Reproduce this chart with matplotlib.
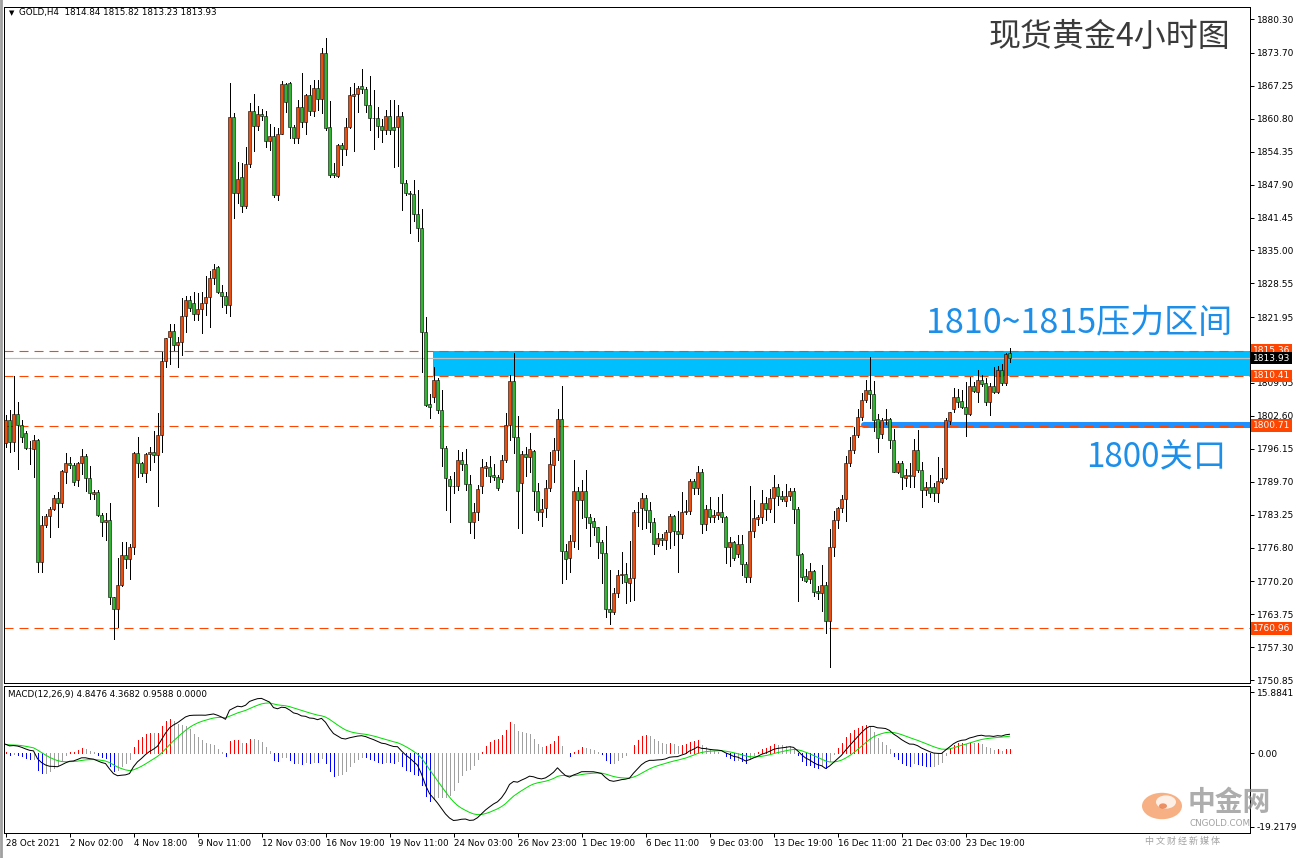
import matplotlib
matplotlib.use("Agg")
import matplotlib.pyplot as plt
import numpy as np
from matplotlib.patches import Rectangle, Circle
from matplotlib.lines import Line2D

plt.rcParams["font.family"] = ["DejaVu Sans", "Noto Sans CJK SC"]
plt.rcParams["lines.scale_dashes"] = False

W, H = 1299, 858

# GOLD H4 bars, oldest first
opens = [
    1797.2, 1801.8, 1797.4, 1803.0, 1800.9, 1799.2, 1796.4, 1796.2, 1797.9, 1773.9,
    1781.3, 1782.9, 1784.4, 1786.6, 1785.6, 1791.7, 1793.3, 1792.9, 1790.0, 1793.3,
    1794.7, 1790.4, 1787.3, 1787.7, 1783.2, 1781.9, 1782.3, 1767.1, 1764.7, 1769.4,
    1775.4, 1774.5, 1776.9, 1795.3, 1793.3, 1791.4, 1795.1, 1795.5, 1794.9, 1798.9,
    1813.3, 1818.1, 1819.2, 1816.4, 1817.0, 1822.1, 1825.2, 1824.8, 1822.6, 1823.5,
    1824.7, 1825.8, 1829.7, 1831.8, 1826.9, 1826.0, 1824.4, 1861.1, 1846.3, 1849.3,
    1843.8, 1851.9, 1862.3, 1859.4, 1861.7, 1861.4, 1856.5, 1857.4, 1845.9, 1857.9,
    1867.6, 1867.7, 1859.2, 1857.0, 1863.0, 1860.2, 1865.4, 1862.4, 1866.9, 1864.7,
    1873.6, 1859.1, 1850.1, 1849.6, 1855.7, 1854.8, 1859.2, 1865.3, 1865.6, 1867.2,
    1866.6, 1863.4, 1861.0, 1861.0, 1859.4, 1858.5, 1861.4, 1859.1, 1859.1, 1861.3,
    1848.3, 1846.3, 1846.1, 1842.1, 1839.3, 1819.0, 1804.9, 1806.2, 1809.6, 1803.8,
    1796.4, 1790.3, 1788.9, 1788.9, 1794.0, 1793.1, 1789.3, 1781.8, 1783.8, 1788.9,
    1792.3, 1792.5, 1791.0, 1790.6, 1790.2, 1794.0, 1800.8, 1809.5, 1798.5, 1789.4,
    1795.1, 1794.6, 1795.7, 1787.8, 1783.8, 1784.5, 1788.4, 1792.9, 1795.9, 1801.9,
    1776.2, 1774.8, 1778.0, 1787.8, 1786.1, 1787.8, 1782.7, 1782.0, 1780.8, 1777.8,
    1775.7, 1764.7, 1764.1, 1768.0, 1771.4, 1771.6, 1769.9, 1770.8, 1783.7, 1784.5,
    1786.5, 1784.2, 1781.9, 1777.6, 1778.6, 1778.2, 1779.8, 1783.0, 1780.1, 1779.4,
    1783.7, 1784.0, 1789.9, 1788.4, 1791.6, 1781.4, 1784.3, 1782.7, 1783.1, 1783.7,
    1782.7, 1776.9, 1777.8, 1775.5, 1777.6, 1773.5, 1771.0, 1780.1, 1782.4, 1782.7,
    1785.5, 1784.3, 1786.6, 1788.6, 1787.0, 1786.0, 1786.9, 1787.9, 1784.4, 1775.5,
    1771.2, 1770.6, 1772.2, 1768.3, 1768.0, 1769.5, 1762.5, 1776.9, 1782.2, 1784.5,
    1786.3, 1793.4, 1795.9, 1798.9, 1802.3, 1805.8, 1807.7, 1806.8, 1801.9, 1799.0,
    1801.8, 1801.9, 1797.9, 1791.7, 1793.3, 1790.4, 1791.0, 1790.8, 1795.9, 1792.0,
    1788.0, 1788.7, 1788.6, 1787.4, 1789.7, 1790.4, 1801.5, 1803.9, 1806.2, 1805.5,
    1804.4, 1802.9, 1808.5, 1807.2, 1809.6, 1809.0, 1805.4, 1808.5, 1807.3, 1811.6,
    1809.0, 1814.84,
]
highs = [
    1802.8, 1803.8, 1810.4, 1805.3, 1801.8, 1799.7, 1797.6, 1798.8, 1798.1, 1783.0,
    1783.4, 1784.8, 1787.1, 1787.6, 1792.0, 1795.3, 1794.5, 1793.3, 1793.6, 1796.1,
    1795.1, 1792.8, 1788.1, 1788.1, 1783.6, 1783.5, 1785.5, 1767.2, 1774.7, 1777.8,
    1777.8, 1777.5, 1795.5, 1798.4, 1793.6, 1795.3, 1796.5, 1799.6, 1803.1, 1815.1,
    1817.9, 1820.6, 1820.5, 1818.0, 1825.6, 1826.0, 1826.0, 1826.8, 1826.6, 1826.9,
    1829.9, 1831.0, 1832.3, 1832.0, 1828.2, 1826.8, 1867.7, 1861.9, 1852.4, 1852.2,
    1855.2, 1863.8, 1865.6, 1863.2, 1862.8, 1862.3, 1859.7, 1859.2, 1858.9, 1868.2,
    1867.7, 1867.9, 1859.6, 1864.5, 1869.7, 1865.6, 1867.4, 1868.4, 1868.4, 1874.6,
    1876.7, 1864.3, 1852.1, 1855.8, 1856.0, 1860.9, 1867.1, 1867.7, 1867.2, 1870.5,
    1867.1, 1869.2, 1866.4, 1863.0, 1860.7, 1862.5, 1864.5, 1864.5, 1863.5, 1862.2,
    1848.7, 1846.6, 1848.7, 1846.8, 1843.1, 1821.9, 1806.8, 1812.1, 1810.0, 1807.7,
    1796.7, 1790.8, 1791.7, 1795.9, 1795.6, 1796.2, 1791.0, 1785.5, 1789.1, 1794.1,
    1793.6, 1794.7, 1793.2, 1791.0, 1794.9, 1803.2, 1810.6, 1815.0, 1802.5, 1795.7,
    1796.6, 1799.2, 1795.9, 1789.4, 1786.3, 1790.0, 1795.5, 1798.3, 1804.0, 1808.5,
    1777.5, 1779.3, 1794.0, 1788.7, 1790.0, 1791.9, 1783.3, 1782.5, 1780.9, 1778.3,
    1781.0, 1772.4, 1768.8, 1772.4, 1776.0, 1773.7, 1778.1, 1784.2, 1785.8, 1787.4,
    1787.1, 1785.8, 1782.5, 1779.6, 1779.5, 1780.3, 1783.3, 1783.2, 1784.0, 1787.6,
    1786.1, 1790.2, 1790.2, 1792.7, 1792.2, 1785.2, 1786.7, 1784.2, 1786.8, 1787.2,
    1782.9, 1778.8, 1778.0, 1779.3, 1779.3, 1773.9, 1788.9, 1786.1, 1783.2, 1788.1,
    1786.8, 1788.3, 1791.0, 1789.2, 1787.9, 1789.2, 1788.4, 1788.4, 1784.8, 1775.7,
    1772.7, 1773.7, 1772.4, 1769.3, 1773.4, 1770.1, 1780.5, 1784.0, 1784.8, 1787.1,
    1794.7, 1798.5, 1800.5, 1804.0, 1807.0, 1809.6, 1814.1, 1809.5, 1803.0, 1802.1,
    1803.9, 1802.1, 1800.0, 1793.8, 1793.8, 1792.1, 1793.3, 1798.1, 1799.8, 1793.6,
    1789.7, 1791.0, 1789.4, 1794.6, 1792.3, 1802.1, 1803.4, 1808.0, 1807.8, 1807.7,
    1809.3, 1810.3, 1809.3, 1811.6, 1810.6, 1810.0, 1809.1, 1812.2, 1812.4, 1812.8,
    1814.9, 1815.82,
]
lows = [
    1796.6, 1795.6, 1795.8, 1792.1, 1797.4, 1796.2, 1793.2, 1790.7, 1772.1, 1772.0,
    1780.9, 1778.8, 1784.2, 1780.8, 1784.8, 1789.4, 1792.3, 1789.1, 1788.9, 1791.3,
    1787.8, 1786.3, 1786.3, 1782.9, 1779.1, 1778.2, 1765.7, 1758.8, 1761.3, 1769.2,
    1772.8, 1770.6, 1775.6, 1790.6, 1790.9, 1789.7, 1791.9, 1793.6, 1785.0, 1795.5,
    1812.1, 1812.7, 1815.5, 1812.1, 1814.5, 1819.1, 1823.2, 1821.4, 1821.4, 1818.8,
    1822.4, 1820.1, 1828.4, 1826.6, 1823.9, 1822.7, 1822.2, 1841.3, 1844.2, 1842.6,
    1843.4, 1851.4, 1854.5, 1858.6, 1860.5, 1855.3, 1854.7, 1845.5, 1844.9, 1857.9,
    1862.2, 1857.0, 1856.0, 1856.0, 1859.2, 1857.9, 1861.5, 1861.3, 1862.5, 1861.9,
    1858.6, 1849.3, 1849.3, 1849.3, 1851.7, 1853.7, 1858.9, 1854.5, 1862.2, 1865.8,
    1862.2, 1858.5, 1854.8, 1857.3, 1856.3, 1857.9, 1857.9, 1851.3, 1851.5, 1842.9,
    1845.9, 1838.5, 1840.8, 1836.9, 1811.2, 1804.5, 1802.1, 1805.4, 1803.1, 1792.7,
    1784.2, 1781.9, 1787.4, 1788.1, 1792.0, 1788.1, 1779.6, 1778.6, 1782.2, 1787.4,
    1790.8, 1789.7, 1790.0, 1788.1, 1789.7, 1793.6, 1797.9, 1795.4, 1780.6, 1779.7,
    1790.8, 1791.7, 1784.2, 1782.2, 1781.0, 1782.7, 1787.8, 1789.7, 1794.0, 1769.8,
    1770.7, 1772.0, 1777.0, 1776.5, 1782.5, 1780.6, 1777.2, 1779.3, 1774.7, 1769.8,
    1763.3, 1761.8, 1763.8, 1767.2, 1769.8, 1765.9, 1766.4, 1766.5, 1781.1, 1780.5,
    1780.7, 1779.9, 1775.5, 1777.2, 1777.4, 1776.5, 1776.7, 1777.4, 1772.1, 1778.6,
    1783.3, 1783.3, 1787.2, 1787.2, 1779.6, 1780.3, 1781.9, 1781.9, 1782.4, 1781.9,
    1773.7, 1773.1, 1774.4, 1775.0, 1771.4, 1770.0, 1770.1, 1778.8, 1781.2, 1781.6,
    1782.2, 1783.8, 1781.8, 1785.2, 1786.0, 1785.0, 1786.1, 1781.6, 1766.4, 1770.5,
    1770.1, 1769.8, 1767.3, 1766.7, 1764.3, 1760.1, 1753.5, 1775.2, 1780.7, 1783.7,
    1782.0, 1792.8, 1795.3, 1798.5, 1801.8, 1805.3, 1804.1, 1799.7, 1795.6, 1798.2,
    1801.1, 1796.4, 1791.6, 1791.5, 1788.2, 1788.9, 1788.7, 1788.7, 1791.7, 1784.8,
    1787.1, 1786.8, 1786.0, 1785.7, 1789.4, 1790.2, 1801.1, 1803.4, 1804.4, 1804.2,
    1798.7, 1802.7, 1807.3, 1805.4, 1808.5, 1804.7, 1802.8, 1807.1, 1807.0, 1808.6,
    1808.6, 1813.23,
]
closes = [
    1801.8, 1797.4, 1803.0, 1800.9, 1798.5, 1796.4, 1796.3, 1797.9, 1773.9, 1781.2,
    1782.9, 1784.4, 1786.6, 1785.6, 1791.8, 1793.3, 1792.9, 1789.7, 1793.3, 1794.7,
    1790.4, 1787.4, 1787.7, 1783.1, 1781.9, 1782.3, 1767.1, 1764.7, 1769.4, 1775.4,
    1774.5, 1776.9, 1795.3, 1793.3, 1791.4, 1795.1, 1795.5, 1794.9, 1798.9, 1813.3,
    1817.8, 1819.2, 1816.4, 1817.0, 1822.1, 1825.2, 1823.8, 1822.6, 1823.5, 1824.7,
    1825.8, 1829.7, 1831.3, 1826.9, 1826.0, 1824.4, 1861.1, 1846.3, 1848.9, 1843.8,
    1851.9, 1862.3, 1859.4, 1861.7, 1861.4, 1856.5, 1857.4, 1845.9, 1857.9, 1867.6,
    1864.0, 1859.2, 1857.0, 1863.0, 1860.2, 1865.4, 1862.4, 1866.9, 1864.7, 1873.6,
    1858.9, 1849.8, 1849.8, 1855.7, 1854.8, 1859.2, 1865.4, 1865.6, 1866.9, 1866.6,
    1863.4, 1861.0, 1860.9, 1859.4, 1858.5, 1861.4, 1858.5, 1858.5, 1861.3, 1848.3,
    1846.3, 1846.1, 1842.1, 1839.3, 1819.0, 1804.7, 1804.4, 1809.6, 1803.8, 1796.4,
    1790.4, 1788.9, 1788.8, 1794.0, 1793.1, 1789.3, 1781.8, 1783.8, 1788.3, 1792.5,
    1792.7, 1790.9, 1790.6, 1788.4, 1794.0, 1800.8, 1809.5, 1798.5, 1787.8, 1795.1,
    1794.6, 1796.2, 1787.8, 1783.8, 1784.3, 1788.4, 1793.1, 1795.9, 1801.9, 1776.2,
    1774.5, 1778.0, 1787.8, 1786.1, 1787.8, 1782.7, 1781.6, 1780.8, 1777.8, 1775.7,
    1764.7, 1764.1, 1768.0, 1771.4, 1771.6, 1770.0, 1770.8, 1783.7, 1783.8, 1786.5,
    1784.2, 1781.9, 1777.6, 1778.6, 1778.2, 1779.8, 1783.0, 1780.1, 1779.4, 1783.8,
    1784.0, 1789.9, 1788.4, 1791.6, 1781.4, 1784.3, 1782.7, 1783.2, 1783.7, 1782.7,
    1776.9, 1777.8, 1774.8, 1777.6, 1773.5, 1771.0, 1780.1, 1782.5, 1782.7, 1785.5,
    1784.3, 1786.6, 1788.6, 1787.0, 1786.3, 1786.9, 1787.9, 1784.4, 1775.4, 1771.1,
    1770.3, 1772.2, 1768.2, 1768.0, 1769.5, 1762.5, 1776.9, 1782.2, 1784.5, 1786.3,
    1793.3, 1795.9, 1798.9, 1802.3, 1805.8, 1807.7, 1806.8, 1801.8, 1798.2, 1801.8,
    1801.9, 1797.9, 1791.7, 1793.3, 1790.6, 1791.0, 1790.8, 1795.9, 1792.0, 1788.1,
    1788.6, 1787.4, 1787.4, 1789.9, 1790.4, 1801.7, 1803.3, 1806.2, 1805.4, 1804.4,
    1802.9, 1808.5, 1807.5, 1809.6, 1808.8, 1805.4, 1808.5, 1807.3, 1811.6, 1809.0,
    1814.8, 1813.93,
]

time_labels = ["28 Oct 2021", "2 Nov 02:00", "4 Nov 18:00", "9 Nov 11:00", "12 Nov 03:00",
               "16 Nov 19:00", "19 Nov 11:00", "24 Nov 03:00", "26 Nov 23:00", "1 Dec 19:00",
               "6 Dec 11:00", "9 Dec 03:00", "13 Dec 19:00", "16 Dec 11:00", "21 Dec 03:00",
               "23 Dec 19:00"]
bars_per_label = 16

price_ticks = [1880.30, 1873.70, 1867.25, 1860.80, 1854.35, 1847.90, 1841.45, 1835.00,
               1828.55, 1821.95, 1809.05, 1802.60, 1796.15, 1789.70, 1783.25, 1776.80,
               1770.20, 1763.75, 1757.30, 1750.85]
level_lines = [1815.36, 1810.41, 1800.71, 1760.96]
bid_price = 1813.93
zone_low, zone_high = 1810.41, 1815.36
support_level = 1800.8
zone_start_bar = 106.9
support_start_bar = 214.5

macd_ticks = [15.8841, 0.0, -19.2179]
dif_start, dea_start = 2.3, 2.2   # MACD state at the first visible bar

n = len(closes)
xs = np.arange(n)
o = np.array(opens); h = np.array(highs); l = np.array(lows); c = np.array(closes)

# MACD(12,26,9), DIF / DEA / 2*(DIF-DEA)
ema12 = np.empty(n); ema26 = np.empty(n); dea = np.empty(n)
ema12[0] = c[0] - 1.0
ema26[0] = ema12[0] - dif_start
for i in range(1, n):
    ema12[i] = ema12[i - 1] + 2 / 13 * (c[i] - ema12[i - 1])
    ema26[i] = ema26[i - 1] + 2 / 27 * (c[i] - ema26[i - 1])
dif = ema12 - ema26
dea[0] = dea_start
for i in range(1, n):
    dea[i] = dea[i - 1] + 2 / 10 * (dif[i] - dea[i - 1])
hist = 2 * (dif - dea)

RED = "#ec4e12"
GREEN = "#32b432"
ORANGE = "#ff4500"
PX = 0.72  # one pixel in points

fig = plt.figure(figsize=(W / 100, H / 100), dpi=100)
ax = fig.add_axes([4 / W, 1 - 683 / H, 1246 / W, 676 / H])
axm = fig.add_axes([4 / W, 1 - 833 / H, 1246 / W, 147 / H])

xlim = (-0.375, 311.125)
ax.set_xlim(*xlim)
ax.set_ylim(1750.28, 1882.68)
axm.set_xlim(*xlim)
axm.set_ylim(-20.83, 17.45)

# resistance zone and support line
ax.add_patch(Rectangle((zone_start_bar, zone_low), xlim[1] - zone_start_bar, zone_high - zone_low,
                       facecolor="#00bfff", edgecolor="none", zorder=1))
ax.plot([support_start_bar, xlim[1] + 1], [support_level, support_level], color="#1e90ff",
        lw=6 * PX, solid_capstyle="round", zorder=1.5)

for lv in level_lines:
    ax.axhline(lv, color=ORANGE, lw=1.1 * PX, ls=(0, (6.5, 4.3)), zorder=2)
ax.axhline(bid_price, color="#c0c0c0", lw=1.2 * PX, zorder=2)

# candles
up = c >= o
cols = np.where(up, RED, GREEN)
ax.vlines(xs, l, h, color="black", lw=1 * PX, zorder=3, antialiased=False)
body_h = np.maximum(np.abs(c - o), 0.1)
ax.bar(xs, body_h, bottom=np.minimum(o, c), width=0.78, color=cols,
       edgecolor="black", linewidth=0.55 * PX, zorder=4)

# MACD panel
hcols = []
for i in range(n):
    prev = hist[i - 1] if i > 0 else hist[i]
    if hist[i] >= 0:
        hcols.append("#ff0000" if hist[i] >= prev else "#a0a0a0")
    else:
        hcols.append("#0000ff" if hist[i] < prev else "#a0a0a0")
axm.vlines(xs, 0, hist, colors=hcols, lw=1 * PX, zorder=2, antialiased=False)
axm.plot(xs, dea, color="#00e000", lw=1 * PX, zorder=3)
axm.plot(xs, dif, color="black", lw=1 * PX, zorder=4)

# axes styling
for a in (ax, axm):
    for s in a.spines.values():
        s.set_color("black")
        s.set_linewidth(PX)
    a.yaxis.tick_right()
    a.tick_params(axis="y", labelsize=6.5, length=3, width=PX, pad=2, colors="black")

ax.set_yticks(price_ticks)
ax.set_yticklabels([f"{p:.2f}" for p in price_ticks])
ax.tick_params(axis="x", bottom=False, labelbottom=False)

axm.set_yticks(macd_ticks)
axm.set_yticklabels(["15.8841", "0.00", "-19.2179"])
axm.set_xticks([i * bars_per_label for i in range(len(time_labels))])
axm.set_xticklabels(time_labels)
axm.tick_params(axis="x", labelsize=6.3, length=3, width=PX, pad=1.5)
for t in axm.get_xticklabels():
    t.set_ha("left")

# price boxes on the right scale
boxes = [(1815.36, ORANGE), (1813.93, "black"), (1810.41, ORANGE), (1800.71, ORANGE), (1760.96, ORANGE)]
for p, fc in boxes:
    ax.annotate(f"{p:.2f}", xy=(1, p), xycoords=("axes fraction", "data"), xytext=(3, 0),
                textcoords="offset pixels", ha="left", va="center", fontsize=6.5, color="white",
                bbox=dict(boxstyle="square,pad=0.2", fc=fc, ec="none"), annotation_clip=False, zorder=10)


def fx(px):
    return px / W


def fy(py):
    return 1 - py / H


cjk = ["Noto Sans CJK SC", "DejaVu Sans"]
fig.text(fx(9), fy(13), "▼", fontsize=5, va="center", ha="left")
fig.text(fx(19), fy(13), "GOLD,H4  1814.84 1815.82 1813.23 1813.93", fontsize=6.3,
         va="center", ha="left")
fig.text(fx(8), fy(694), "MACD(12,26,9) 4.8476 4.3682 0.9588 0.0000", fontsize=6.3,
         va="center", ha="left")
fig.text(fx(1230), fy(37), "现货黄金4小时图", family=cjk, fontsize=23, color="#3a3a3a",
         va="center", ha="right")
fig.text(fx(1232), fy(323), "1810~1815压力区间", family=cjk, fontsize=24.5, color="#1e8fe8",
         va="center", ha="right")
fig.text(fx(1226), fy(458), "1800关口", family=cjk, fontsize=24, color="#1e8fe8",
         va="center", ha="right")

# left border strip
fig.add_artist(Line2D([fx(1), fx(1)], [0, 1], color="#a0a0a0", lw=2))

# watermark logo
fig.add_artist(Circle((fx(1162), fy(806)), 20 / W, transform=fig.transFigure, facecolor="#f07020",
                      edgecolor="none", alpha=0.55, zorder=20))
fig.add_artist(Circle((fx(1166), fy(802)), 10 / W, transform=fig.transFigure, facecolor="white",
                      edgecolor="none", alpha=0.8, zorder=21))
fig.add_artist(Circle((fx(1163), fy(806)), 4 / W, transform=fig.transFigure, facecolor="#e05010",
                      edgecolor="none", alpha=0.6, zorder=22))
fig.text(fx(1188), fy(803), "中金网", family=cjk, fontsize=20, weight="bold", color="#8a8a8a",
         alpha=0.7, va="center", ha="left", zorder=22)
fig.text(fx(1190), fy(823), "CNGOLD.COM", fontsize=6.3, color="#8a8a8a", alpha=0.8,
         va="center", ha="left", zorder=22)
fig.text(fx(1145), fy(841), "中 文 财 经 新 媒 体", family=cjk, fontsize=6.5, color="#8a8a8a",
         alpha=0.8, va="center", ha="left", zorder=22)

fig.savefig("out.png", dpi=100, facecolor="white")
